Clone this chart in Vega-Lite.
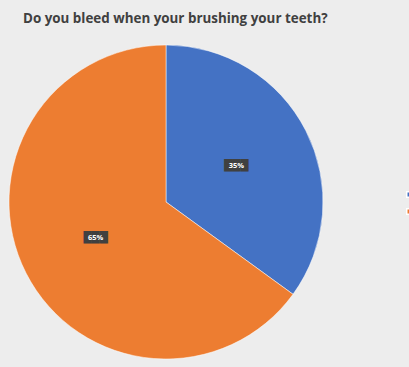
{
  "$schema": "https://vega.github.io/schema/vega-lite/v6.json",
  "autosize": {"type": "none"},
  "width": 314,
  "height": 314,
  "padding": {"left": 9, "top": 45, "right": 86, "bottom": 8},
  "background": "#ededed",
  "title": {
    "text": "Do you bleed when your brushing your teeth?",
    "anchor": "start",
    "dx": 15,
    "offset": 19,
    "fontSize": 13.4,
    "font": "Open Sans",
    "fontWeight": "bold",
    "color": "#404040"
  },
  "data": {
    "values": [
      {"answer": "Yes", "share": 35, "label": "35%"},
      {"answer": "No", "share": 65, "label": "65%"}
    ]
  },
  "encoding": {
    "theta": {"field": "share", "type": "quantitative", "stack": true},
    "order": {"field": "share", "sort": "ascending"}
  },
  "layer": [
    {
      "mark": {"type": "arc", "outerRadius": 157, "stroke": "#ffffff", "strokeWidth": 0.5},
      "encoding": {
        "color": {
          "field": "answer",
          "type": "nominal",
          "scale": {"domain": ["Yes", "No"], "range": ["#4472c4", "#ed7d31"]},
          "legend": {
            "orient": "none",
            "legendX": 396,
            "legendY": 145,
            "title": null,
            "symbolType": "square",
            "symbolSize": 30,
            "labelFontSize": 9,
            "labelColor": "#595959",
            "rowPadding": 4
          }
        }
      }
    },
    {
      "mark": {"type": "text", "radius": 79, "text": "███", "fontSize": 10.5, "font": "DejaVu Sans", "color": "#404040"}
    },
    {
      "mark": {"type": "text", "radius": 79, "fontSize": 7.5, "font": "Open Sans", "fontWeight": "bold", "color": "#ffffff"},
      "encoding": {"text": {"field": "label", "type": "nominal"}}
    }
  ]
}
